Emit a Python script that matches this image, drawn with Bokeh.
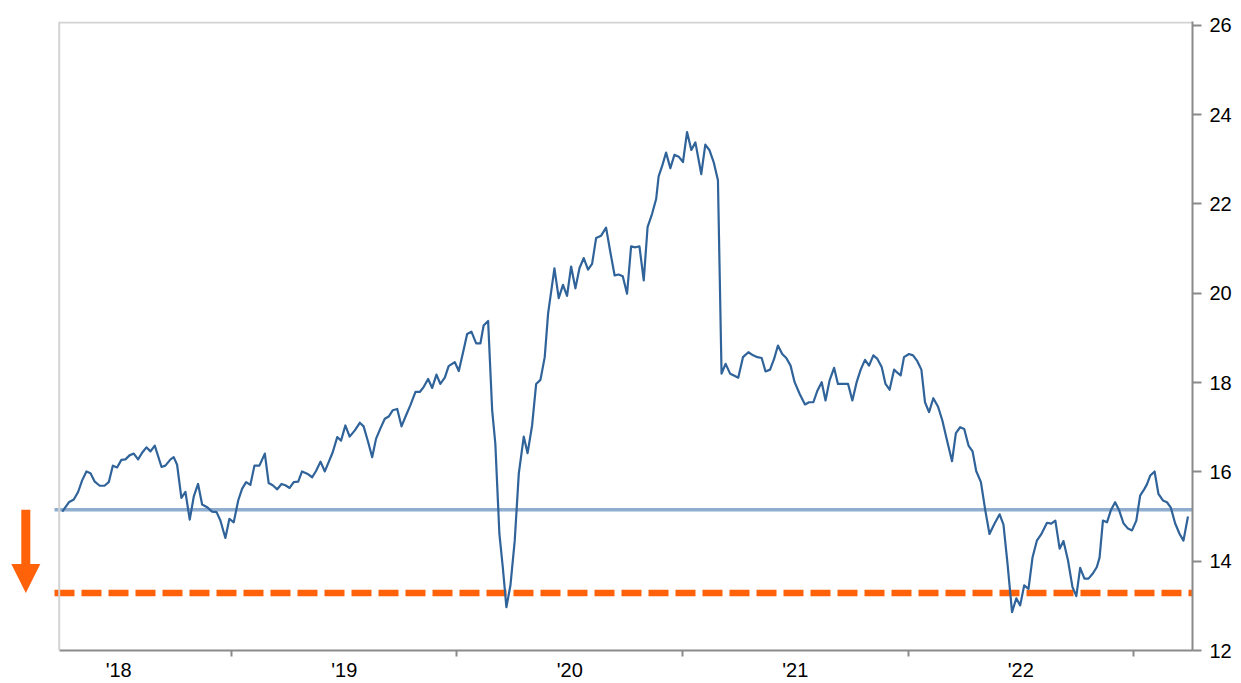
from bokeh.plotting import figure
from bokeh.models import (Range1d, FixedTicker, Span, Arrow, NormalHead,
                          ColumnDataSource)
from bokeh.embed import file_html
from bokeh.resources import INLINE

# Weekly forward P/E readings (time as fractional year)
year_frac = [
    2018.250, 2018.279, 2018.301, 2018.320, 2018.338, 2018.357, 2018.375, 2018.394,
    2018.416, 2018.437, 2018.456, 2018.474, 2018.493, 2018.512, 2018.530, 2018.548,
    2018.567, 2018.586, 2018.604, 2018.623, 2018.641, 2018.660, 2018.690, 2018.707,
    2018.730, 2018.744, 2018.759, 2018.778, 2018.796, 2018.815, 2018.833, 2018.852,
    2018.870, 2018.892, 2018.914, 2018.934, 2018.951, 2018.973, 2018.991, 2019.010,
    2019.030, 2019.047, 2019.065, 2019.084, 2019.102, 2019.124, 2019.148, 2019.165,
    2019.183, 2019.203, 2019.222, 2019.239, 2019.258, 2019.276, 2019.296, 2019.313,
    2019.336, 2019.358, 2019.375, 2019.395, 2019.414, 2019.431, 2019.449, 2019.469,
    2019.486, 2019.505, 2019.524, 2019.547, 2019.569, 2019.586, 2019.606, 2019.624,
    2019.641, 2019.660, 2019.680, 2019.697, 2019.715, 2019.735, 2019.754, 2019.771,
    2019.793, 2019.816, 2019.835, 2019.852, 2019.872, 2019.890, 2019.909, 2019.926,
    2019.946, 2019.963, 2019.990, 2020.008, 2020.027, 2020.045, 2020.064, 2020.085,
    2020.104, 2020.118, 2020.138, 2020.156, 2020.170, 2020.188, 2020.203, 2020.219,
    2020.237, 2020.256, 2020.274, 2020.296, 2020.313, 2020.333, 2020.351, 2020.370,
    2020.389, 2020.404, 2020.432, 2020.451, 2020.470, 2020.488, 2020.506, 2020.525,
    2020.543, 2020.562, 2020.581, 2020.599, 2020.617, 2020.639, 2020.661, 2020.680,
    2020.699, 2020.717, 2020.735, 2020.754, 2020.772, 2020.791, 2020.809, 2020.828,
    2020.845, 2020.865, 2020.883, 2020.894, 2020.909, 2020.927, 2020.946, 2020.964,
    2020.983, 2021.002, 2021.020, 2021.039, 2021.057, 2021.083, 2021.101, 2021.119,
    2021.138, 2021.157, 2021.173, 2021.191, 2021.211, 2021.228, 2021.247, 2021.268,
    2021.292, 2021.313, 2021.332, 2021.351, 2021.368, 2021.388, 2021.406, 2021.423,
    2021.442, 2021.460, 2021.479, 2021.497, 2021.519, 2021.543, 2021.561, 2021.580,
    2021.598, 2021.617, 2021.634, 2021.652, 2021.672, 2021.689, 2021.708, 2021.734,
    2021.753, 2021.772, 2021.790, 2021.809, 2021.827, 2021.846, 2021.864, 2021.883,
    2021.900, 2021.918, 2021.938, 2021.955, 2021.967, 2021.982, 2022.004, 2022.022,
    2022.041, 2022.059, 2022.075, 2022.093, 2022.112, 2022.133, 2022.152, 2022.173,
    2022.195, 2022.212, 2022.231, 2022.249, 2022.268, 2022.286, 2022.302, 2022.323,
    2022.342, 2022.361, 2022.383, 2022.406, 2022.423, 2022.441, 2022.461, 2022.480,
    2022.497, 2022.515, 2022.534, 2022.552, 2022.571, 2022.590, 2022.616, 2022.635,
    2022.653, 2022.672, 2022.689, 2022.709, 2022.729, 2022.746, 2022.763, 2022.782,
    2022.800, 2022.820, 2022.837, 2022.849, 2022.864, 2022.882, 2022.899, 2022.918,
    2022.936, 2022.955, 2022.975, 2022.993, 2023.012, 2023.029, 2023.048, 2023.059,
    2023.074, 2023.093, 2023.110, 2023.130, 2023.148, 2023.165, 2023.184, 2023.204,
    2023.221, 2023.241,
]
forward_pe = [
    15.11, 15.32, 15.38, 15.55, 15.81, 16.01, 15.97, 15.78,
    15.69, 15.69, 15.77, 16.14, 16.10, 16.27, 16.28, 16.37,
    16.41, 16.28, 16.43, 16.55, 16.46, 16.59, 16.11, 16.14,
    16.28, 16.33, 16.16, 15.42, 15.55, 14.93, 15.45, 15.73,
    15.27, 15.21, 15.11, 15.10, 14.91, 14.52, 14.95, 14.87,
    15.36, 15.62, 15.77, 15.71, 16.14, 16.14, 16.41, 15.75,
    15.70, 15.61, 15.73, 15.70, 15.64, 15.77, 15.78, 16.01,
    15.96, 15.88, 16.02, 16.23, 16.01, 16.22, 16.44, 16.78,
    16.70, 17.04, 16.79, 16.93, 17.10, 17.02, 16.67, 16.33,
    16.74, 16.97, 17.19, 17.24, 17.38, 17.41, 17.02, 17.23,
    17.49, 17.79, 17.79, 17.90, 18.08, 17.88, 18.18, 17.97,
    18.11, 18.37, 18.46, 18.26, 18.68, 19.09, 19.14, 18.88,
    18.88, 19.28, 19.38, 17.38, 16.63, 14.61, 13.87, 12.97,
    13.46, 14.46, 15.96, 16.79, 16.42, 17.04, 17.97, 18.06,
    18.57, 19.55, 20.56, 19.89, 20.19, 19.94, 20.60, 20.11,
    20.56, 20.79, 20.53, 20.66, 21.24, 21.29, 21.47, 20.92,
    20.40, 20.42, 20.38, 19.99, 21.05, 21.03, 21.05, 20.29,
    21.48, 21.78, 22.11, 22.62, 22.84, 23.15, 22.80, 23.10,
    23.06, 22.94, 23.61, 23.21, 23.38, 22.67, 23.33, 23.21,
    22.94, 22.53, 18.20, 18.42, 18.20, 18.16, 18.11, 18.57,
    18.68, 18.61, 18.57, 18.55, 18.25, 18.29, 18.53, 18.83,
    18.64, 18.55, 18.38, 18.01, 17.75, 17.51, 17.56, 17.56,
    17.82, 18.01, 17.60, 18.05, 18.33, 17.97, 17.97, 17.97,
    17.60, 18.01, 18.29, 18.51, 18.38, 18.61, 18.53, 18.35,
    17.97, 17.84, 18.29, 18.21, 18.16, 18.57, 18.64, 18.61,
    18.48, 18.29, 17.56, 17.34, 17.65, 17.46, 17.15, 16.70,
    16.24, 16.87, 17.00, 16.96, 16.59, 16.46, 16.02, 15.77,
    15.15, 14.61, 14.84, 15.05, 14.82, 13.94, 12.86, 13.17,
    13.01, 13.46, 13.38, 14.09, 14.46, 14.60, 14.86, 14.84,
    14.91, 14.28, 14.45, 14.02, 13.42, 13.22, 13.85, 13.61,
    13.61, 13.73, 13.87, 14.08, 14.91, 14.87, 15.14, 15.32,
    15.14, 14.85, 14.73, 14.69, 14.91, 15.47, 15.62, 15.72,
    15.92, 16.01, 15.51, 15.36, 15.32, 15.20, 14.85, 14.61,
    14.46, 15.00,
]

average_pe = 15.15      # long-run average level
lower_pe = 13.29        # lower reference level

year_labels = ["'18", "'19", "'20", "'21", "'22"]
label_years = [2018.5, 2019.5, 2020.5, 2021.5, 2022.5]
year_starts = [2019, 2020, 2021, 2022, 2023]
y_ticks = [12, 14, 16, 18, 20, 22, 24, 26]

LINE_BLUE = "#2f6399"
AVG_BLUE = "#8fadcf"
ORANGE = "#ff6208"
AXIS_GREY = "#8a8a8a"
FRAME_GREY = "#d3d3d3"
FONT = "Liberation Sans"

chart_start = 2018.2363
chart_end = 2023.2611
level_start = 2018.2154

p = figure(width=1241, height=683, output_backend="svg", toolbar_location=None,
           x_range=Range1d(2017.976, chart_end), y_range=Range1d(12, 26.087),
           y_axis_location="right", min_border_left=0, min_border_right=49,
           min_border_top=21, min_border_bottom=33)
p.outline_line_color = None
p.xgrid.visible = False
p.ygrid.visible = False
p.background_fill_color = "white"
p.border_fill_color = "white"

# light frame on the left and top of the chart area
p.add_layout(Span(location=chart_start, dimension="height",
                  line_color=FRAME_GREY, line_width=2))
p.segment(x0=[chart_start], y0=[26.065], x1=[chart_end], y1=[26.065],
          line_color=FRAME_GREY, line_width=2)

# reference levels
p.segment(x0=[level_start], y0=[average_pe], x1=[chart_end], y1=[average_pe],
          line_color=AVG_BLUE, line_width=3.5)
p.segment(x0=[level_start], y0=[lower_pe], x1=[chart_end], y1=[lower_pe],
          line_color=ORANGE, line_width=6.5, line_dash="20 7")

src = ColumnDataSource(dict(t=year_frac, pe=forward_pe))
p.line("t", "pe", source=src, line_color=LINE_BLUE, line_width=2.2,
       line_join="round")

# downward arrow from the average to the lower level
p.add_layout(Arrow(x_start=2018.0882, y_start=average_pe,
                   x_end=2018.0882, y_end=lower_pe,
                   line_color=ORANGE, line_width=9,
                   end=NormalHead(size=29, fill_color=ORANGE,
                                  line_color=ORANGE, line_width=0)))

# x axis: unlabeled ticks at year starts, labels at mid-year
xa = p.xaxis[0]
xa.ticker = FixedTicker(ticks=label_years, minor_ticks=year_starts)
xa.major_label_overrides = {y: lab for y, lab in zip(label_years, year_labels)}
xa.bounds = (chart_start, chart_end)
xa.axis_line_color = AXIS_GREY
xa.axis_line_width = 2
xa.major_tick_line_color = None
xa.major_tick_out = 0
xa.major_tick_in = 0
xa.minor_tick_line_color = AXIS_GREY
xa.minor_tick_line_width = 2
xa.minor_tick_out = 6
xa.minor_tick_in = 0
xa.major_label_standoff = 2
xa.major_label_text_font = FONT
xa.major_label_text_font_size = "20px"
xa.major_label_text_color = "black"

ya = p.yaxis[0]
ya.ticker = FixedTicker(ticks=y_ticks)
ya.axis_line_color = AXIS_GREY
ya.axis_line_width = 2
ya.major_tick_line_color = AXIS_GREY
ya.major_tick_line_width = 2
ya.major_tick_out = 9
ya.major_tick_in = 0
ya.minor_tick_line_color = None
ya.major_label_standoff = 8
ya.major_label_text_font = FONT
ya.major_label_text_font_size = "20px"
ya.major_label_text_color = "black"

open("out.html", "w").write(file_html(p, INLINE))
